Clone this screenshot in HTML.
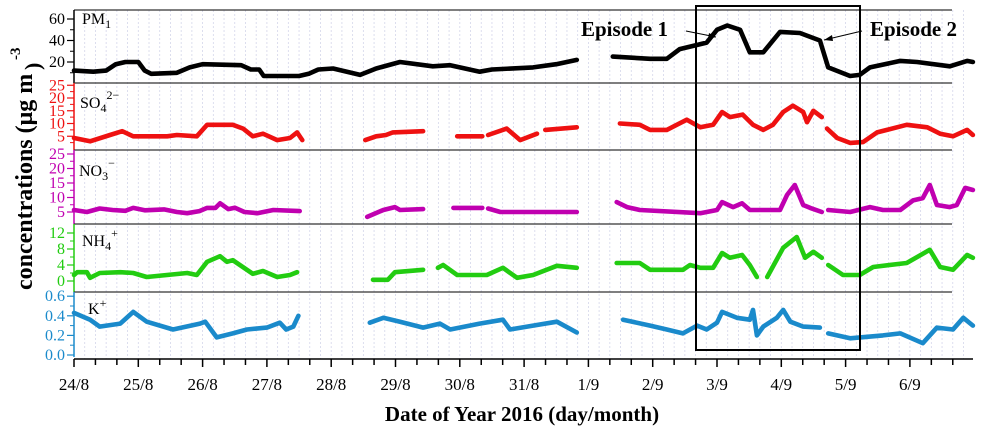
<!DOCTYPE html>
<html><head><meta charset="utf-8">
<style>
html,body{margin:0;padding:0;background:#fff;}
svg{display:block;font-family:"Liberation Serif",serif;}
</style></head>
<body>
<svg id="chart" width="983" height="437" viewBox="0 0 983 437" xmlns="http://www.w3.org/2000/svg">
<g id="grid"></g>
<g id="axes"></g>
<g id="series"></g>
<g id="labels"></g>
</svg>
<script>
// ---- data (time in days since 24/8 00:00; null = gap) ----
const dayLabels = ["24/8","25/8","26/8","27/8","28/8","29/8","30/8","31/8","1/9","2/9","3/9","4/9","5/9","6/9"];
const pm1Times = [0,0.3,0.5,0.65,0.8,1.0,1.1,1.2,1.6,1.8,2.0,2.6,2.75,2.88,2.95,3.5,3.65,3.8,4.03,4.45,4.7,5.07,5.58,5.85,6.31,6.5,7.14,7.5,7.82,8.1,8.38,8.96,9.22,9.42,9.84,10.0,10.16,10.36,10.51,10.72,10.98,11.29,11.6,11.73,12.07,12.22,12.38,12.85,13.11,13.62,13.89,13.98];
const pm1Values = [12,11,12,18,20,20,12,9,10,15,18,17,13,13,7,7,9,13,14,8,14,20,16,17,11,13,15,18,22,null,25,23,23,32,38,50,54,50,29,29,48,47,40,15,7,8,15,21,20,16,21,20];
const so4Times = [0,0.25,0.56,0.75,0.92,1.45,1.6,1.91,2.07,2.47,2.63,2.78,2.94,3.16,3.36,3.47,3.55,4.0,4.53,4.7,4.85,4.96,5.43,5.7,5.96,6.35,6.4,6.44,6.73,6.94,7.2,7.27,7.33,7.82,8.1,8.49,8.8,8.96,9.22,9.53,9.74,9.94,10.08,10.2,10.4,10.56,10.72,10.87,11.03,11.18,11.34,11.4,11.5,11.63,11.67,11.71,11.87,12.07,12.27,12.49,12.95,13.27,13.47,13.67,13.89,13.98];
const so4Values = [4.3,3,5.5,7,5,5,5.5,5,9.5,9.5,8,5,6,3.5,4.3,6.5,3.5,null,3.5,5,5.5,6.5,7,null,5,5,null,5.5,8,3.5,6,null,7.5,8.5,null,10,9.5,7.5,7.5,11.5,8.5,9.5,14.5,12.5,13.5,9.5,7.5,9.5,14.5,17,14.5,10.5,15,12.5,null,8,4.3,2.4,2.7,6.5,9.5,8.5,6,5,7.5,5.5];
const no3Times = [0,0.2,0.4,0.6,0.8,0.92,1.1,1.4,1.6,1.76,1.95,2.07,2.2,2.27,2.4,2.5,2.65,2.85,3.1,3.51,4.0,4.56,4.81,4.99,5.07,5.43,5.7,5.9,6.35,6.4,6.44,6.63,7.82,8.1,8.44,8.6,8.8,9.74,10.0,10.08,10.25,10.39,10.51,10.98,11.09,11.21,11.34,11.45,11.63,11.68,11.73,12.07,12.38,12.58,12.85,13.05,13.2,13.31,13.42,13.62,13.73,13.86,13.98];
const no3Values = [5.7,5,6.2,5.7,5.4,6.4,5.6,5.9,5,4.6,5.3,6.4,6.4,8,6,6.5,5,4.6,5.7,5.3,null,3.3,5.7,6.7,5.7,6,null,6.4,6.4,null,6.2,5,5,null,8.4,6.7,5.7,4.6,5.7,8.4,6.7,8,5.7,5.7,10.9,14.3,7.4,6.4,5,null,5.7,5,6.7,5.7,5.7,9,9.8,14.3,7.4,6.7,7.4,13.3,12.6];
const nh4Times = [0,0.05,0.2,0.25,0.4,0.72,0.92,1.13,1.76,1.91,2.07,2.27,2.38,2.47,2.78,2.94,3.16,3.36,3.47,4.0,4.65,4.88,4.99,5.43,5.55,5.66,5.74,5.96,6.42,6.67,6.89,7.14,7.51,7.82,8.1,8.44,8.8,8.96,9.47,9.58,9.74,9.94,10.08,10.2,10.39,10.51,10.62,10.7,10.78,11.03,11.24,11.37,11.5,11.63,11.68,11.73,11.96,12.22,12.43,12.95,13.31,13.47,13.67,13.89,13.98];
const nh4Values = [1.5,2.2,2.2,0.8,2,2.2,2,1,2,1.5,4.8,6.2,4.8,5.2,1.8,2.5,1,1.5,2.2,null,0.3,0.3,2.2,2.8,null,3.3,4,1.5,1.5,3.3,0.8,1.5,3.8,3.3,null,4.5,4.5,2.8,2.8,4,3.3,3.3,7,5.8,6.5,4,1,null,1,8.3,11,5.8,7.3,5.8,null,4,1.5,1.5,3.5,4.5,7.8,3.5,2.8,6.5,5.8];
const kTimes = [0,0.25,0.4,0.72,0.92,1.13,1.54,1.96,2.04,2.22,2.47,2.69,3.0,3.2,3.3,3.41,3.49,4.0,4.6,4.81,5.07,5.43,5.69,5.85,6.31,6.67,6.78,7.14,7.51,7.82,8.2,8.54,8.96,9.22,9.47,9.69,9.84,10.0,10.08,10.31,10.51,10.56,10.62,10.72,10.93,11.03,11.14,11.34,11.6,11.67,11.73,12.07,12.58,12.85,13.2,13.42,13.67,13.83,13.98];
const kValues = [0.43,0.36,0.29,0.32,0.44,0.34,0.26,0.32,0.34,0.18,0.22,0.26,0.28,0.33,0.26,0.29,0.4,null,0.33,0.38,0.34,0.28,0.32,0.26,0.32,0.36,0.26,0.3,0.34,0.23,null,0.36,0.3,0.26,0.22,0.3,0.26,0.33,0.44,0.38,0.36,0.46,0.2,0.29,0.38,0.46,0.34,0.29,0.28,null,0.22,0.17,0.2,0.22,0.12,0.28,0.26,0.38,0.3];
const pm1Ticks = [20,40,60];
const so4Ticks = [5,10,15,20,25];
const no3Ticks = [5,10,15,20,25];
const nh4Ticks = [0,4,8,12];
const kTicks = [0.0,0.2,0.4,0.6];
const kTickLabels = ["0.0","0.2","0.4","0.6"];

// ---- layout ----
const NS = "http://www.w3.org/2000/svg";
const X0 = 74, PXD = 64.3, XEND = 973;
const xs = d => X0 + d * PXD;
function mk(tag, attrs, parent){const e=document.createElementNS(NS,tag);for(const k in attrs)e.setAttribute(k,attrs[k]);parent.appendChild(e);return e;}
const panels = [
  {key:"pm1", color:"#000000", zero:83.5, ppu:1.075, top:10, bot:83, ticks:pm1Ticks, minor:[10,30,50], t:pm1Times, v:pm1Values},
  {key:"so4", color:"#ee1111", zero:149, ppu:2.55, top:83, bot:150, ticks:so4Ticks, minor:[2.5,7.5,12.5,17.5,22.5], t:so4Times, v:so4Values},
  {key:"no3", color:"#c000b0", zero:226.5, ppu:2.9, top:150, bot:224, ticks:no3Ticks, minor:[7.5,12.5,17.5,22.5], t:no3Times, v:no3Values},
  {key:"nh4", color:"#22cc11", zero:281, ppu:4, top:224, bot:292, ticks:nh4Ticks, minor:[2,6,10], t:nh4Times, v:nh4Values},
  {key:"k", color:"#1a8acb", zero:355, ppu:98, top:292, bot:357, ticks:kTicks, minor:[0.1,0.3,0.5], t:kTimes, v:kValues, labels:kTickLabels}
];
const grid=document.getElementById('grid'), axes=document.getElementById('axes'), series=document.getElementById('series'), labels=document.getElementById('labels');

// vertical dotted grid every 4h
for(let i=1;i<=84;i++){
  const x=xs(i/6);
  if(x>XEND-2) break;
  const g=mk('line',{x1:x,y1:10,x2:x,y2:359,stroke:'#d4d6ea','stroke-width':0.8,'stroke-dasharray':'2,2'},grid);
  
  
}
// x ticks every 8h
for(let i=0;i<=41;i++){
  const x=xs(i/3);
  if(x>XEND) break;
  const tk=mk('line',{x1:x,y1:359,x2:x,y2:i%3===0?367:365,stroke:'#000','stroke-width':1.5},axes);
  
  
}
dayLabels.forEach((lab,i)=>{
  const t=mk('text',{x:xs(i),y:390,'text-anchor':'middle','font-size':17},labels);
  t.textContent=lab;
  
  
});
const xa=mk('line',{x1:X0,y1:359,x2:XEND,y2:359,stroke:'#000','stroke-width':1.5},axes);



panels.forEach(p=>{
  const ys=v=>p.zero-v*p.ppu;
  const sep=mk('line',{x1:X0,y1:p.top,x2:952,y2:p.top,stroke:'#333','stroke-width':1.2},axes);
  
  
  const ax=mk('line',{x1:X0,y1:p.top,x2:X0,y2:p.bot,stroke:p.color,'stroke-width':1.5},axes);
  
  
  p.ticks.forEach((v,i)=>{
    const y=ys(v);
    const tk=mk('line',{x1:X0-7,y1:y,x2:X0,y2:y,stroke:p.color,'stroke-width':1.2},axes);
    
    
    const t=mk('text',{x:X0-9,y:y+5,'text-anchor':'end','font-size':16,fill:p.color},labels);
    t.textContent=p.labels?p.labels[i]:String(v);
    
    
  });
  p.minor.forEach(v=>{
    const y=ys(v);
    const tk=mk('line',{x1:X0-4,y1:y,x2:X0,y2:y,stroke:p.color,'stroke-width':1},axes);
    
    
  });
  let d='',pen=false;
  for(let i=0;i<p.t.length;i++){
    if(p.v[i]===null){pen=false;continue;}
    d+=(pen?'L':'M')+xs(p.t[i]).toFixed(1)+','+ys(p.v[i]).toFixed(1);
    pen=true;
  }
  const path=mk('path',{d:d,fill:'none',stroke:p.color,'stroke-width':4.6,'stroke-linejoin':'round','stroke-linecap':'round'},series);
  
  
});
</script>
<div style="position:absolute;left:0;top:0;width:983px;height:437px;pointer-events:none;">
<svg width="983" height="437" style="font-family:'Liberation Serif',serif">
  <text x="82" y="24" font-size="16">PM<tspan font-size="12" dy="4">1</tspan></text>
  <text x="80" y="108" font-size="16">SO<tspan font-size="12" dy="4">4</tspan><tspan font-size="12" dy="-13">2−</tspan></text>
  <text x="79" y="176" font-size="16">NO<tspan font-size="12" dy="4">3</tspan><tspan font-size="12" dy="-13">−</tspan></text>
  <text x="82" y="246" font-size="16">NH<tspan font-size="12" dy="4">4</tspan><tspan font-size="12" dy="-13">+</tspan></text>
  <text x="88" y="314" font-size="16">K<tspan font-size="12" dy="-7">+</tspan></text>
  <text transform="translate(32,290) rotate(-90)" font-size="24" font-weight="bold">concentrations (μg m</text>
  <text transform="translate(20,60) rotate(-90)" font-size="15" font-weight="bold">-3</text>
  <text transform="translate(40,70) rotate(-90)" font-size="22" font-weight="bold">)</text>
  <text x="522" y="421" text-anchor="middle" font-size="21" font-weight="bold">Date of Year 2016 (day/month)</text>
  <rect x="696" y="6" width="164" height="344" fill="none" stroke="#000" stroke-width="2"/>
  <text x="581" y="36" font-size="21" font-weight="bold">Episode 1</text>
  <text x="870" y="36" font-size="21" font-weight="bold">Episode 2</text>
  <line x1="686" y1="31" x2="716" y2="37" stroke="#000" stroke-width="1"/>
  <path d="M716,37 L709,33 L708,39 Z" fill="#000"/>
  <line x1="862" y1="31" x2="824" y2="40" stroke="#000" stroke-width="1"/>
  <path d="M824,40 L832,35 L833,41 Z" fill="#000"/>
</svg>
</div>
</body></html>
